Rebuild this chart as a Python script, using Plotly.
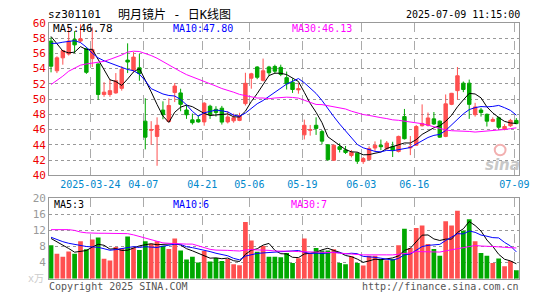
import plotly.graph_objects as go

# ---------------- data ----------------
dates = ["2025-03-13", "2025-03-14", "2025-03-17", "2025-03-18", "2025-03-19", "2025-03-20", "2025-03-21",
         "2025-03-24", "2025-03-25", "2025-03-26", "2025-03-27", "2025-03-28", "2025-03-31",
         "2025-04-01", "2025-04-02", "2025-04-03", "2025-04-07", "2025-04-08", "2025-04-09", "2025-04-10",
         "2025-04-11", "2025-04-14", "2025-04-15", "2025-04-16", "2025-04-17", "2025-04-18", "2025-04-21",
         "2025-04-22", "2025-04-23", "2025-04-24", "2025-04-25", "2025-04-28", "2025-04-29", "2025-04-30",
         "2025-05-06", "2025-05-07", "2025-05-08", "2025-05-09", "2025-05-12", "2025-05-13", "2025-05-14",
         "2025-05-15", "2025-05-16", "2025-05-19", "2025-05-20", "2025-05-21", "2025-05-22", "2025-05-23",
         "2025-05-26", "2025-05-27", "2025-05-28", "2025-05-29", "2025-05-30", "2025-06-03", "2025-06-04",
         "2025-06-05", "2025-06-06", "2025-06-09", "2025-06-10", "2025-06-11", "2025-06-12", "2025-06-13",
         "2025-06-16", "2025-06-17", "2025-06-18", "2025-06-19", "2025-06-20", "2025-06-23", "2025-06-24",
         "2025-06-25", "2025-06-26", "2025-06-27", "2025-06-30", "2025-07-01", "2025-07-02", "2025-07-03",
         "2025-07-04", "2025-07-07", "2025-07-08", "2025-07-09"]

opens = [57.6, 53.7, 55.4, 55.9, 57.8, 57.6, 56.6, 55.3, 54.6, 50.6,
         50.6, 50.8, 51.4, 55.1, 53.8, 54.1, 47.1, 45.9, 45.1, 48.55,
         47.05, 50.85, 50.8, 48.56, 47.27, 47.3, 47.0, 49.06, 48.65, 48.8,
         47.0, 47.15, 47.2, 49.4, 52.73, 54.2, 52.45, 54.2, 54.27, 54.15,
         52.8, 52.2, 51.2, 45.31, 45.9, 46.56, 45.73, 44.0, 41.98, 43.75,
         43.33, 42.6, 42.9, 41.8, 42.08, 43.58, 43.94, 43.52, 43.8, 43.12,
         47.7, 43.6, 43.95, 46.5, 46.56, 47.4, 47.1, 45.1, 49.3, 51.1,
         52.08, 52.08, 47.95, 48.56, 48.0, 47.08, 47.55, 46.04, 46.5, 47.2]
highs = [58.1, 55.6, 56.4, 59.5, 58.9, 59.8, 56.8, 59.4, 54.7, 52.2,
         52.6, 53.4, 54.3, 57.3, 56.15, 55.9, 50.1, 47.1, 47.6, 49.7,
         50.1, 52.1, 51.35, 49.27, 48.1, 47.9, 49.6, 49.25, 49.06, 49.1,
         48.4, 48.1, 48.2, 53.44, 53.44, 54.3, 55.3, 54.35, 54.5, 54.5,
         53.6, 52.7, 52.1, 47.3, 46.6, 47.6, 45.94, 44.06, 44.06, 44.2,
         43.85, 43.31, 43.0, 42.4, 43.8, 44.45, 44.69, 44.5, 44.4, 45.2,
         48.7, 45.15, 46.6, 49.3, 48.23, 48.3, 47.2, 50.6, 50.8, 54.2,
         52.3, 52.55, 49.5, 48.85, 48.1, 47.6, 47.7, 46.7, 47.4, 47.5]
lows = [53.5, 53.4, 54.5, 55.7, 56.0, 57.4, 53.3, 54.2, 49.9, 50.3,
        50.3, 50.7, 51.1, 53.4, 53.5, 52.4, 43.4, 44.0, 41.25, 47.35,
        46.98, 49.6, 48.4, 47.4, 46.65, 46.9, 46.5, 47.4, 47.7, 46.65,
        46.8, 46.9, 47.1, 49.15, 51.35, 52.6, 52.3, 53.0, 53.3, 53.0,
        51.25, 50.8, 50.7, 44.7, 45.2, 45.3, 44.06, 41.9, 41.9, 43.0,
        42.8, 42.35, 41.5, 41.5, 41.95, 43.2, 43.3, 43.3, 42.4, 43.0,
        44.7, 42.65, 43.9, 46.4, 46.4, 46.6, 44.9, 45.0, 49.2, 49.9,
        50.9, 47.4, 47.7, 47.7, 46.4, 46.98, 45.95, 45.9, 46.35, 46.7]
closes = [54.3, 55.4, 56.35, 57.6, 57.1, 57.9, 53.5, 56.5, 50.6, 50.9,
          51.1, 52.4, 53.9, 54.85, 55.5, 53.35, 45.0, 46.0, 46.56, 47.95,
          49.15, 51.7, 49.3, 47.94, 46.9, 47.0, 49.45, 47.92, 48.25, 46.98,
          47.65, 47.55, 47.8, 52.06, 53.31, 52.85, 53.7, 53.44, 53.65, 53.23,
          52.0, 51.25, 51.35, 46.56, 46.0, 46.15, 44.48, 42.06, 43.94, 43.4,
          43.0, 43.0, 41.85, 42.2, 43.5, 43.94, 43.75, 44.23, 43.33, 45.1,
          44.8, 43.72, 46.4, 46.8, 47.52, 46.73, 45.0, 49.37, 50.75, 53.05,
          51.25, 49.3, 48.96, 48.23, 47.1, 47.32, 46.3, 46.4, 47.2, 46.78]
volumes = [8.33, 6.19, 5.48, 6.75, 6.19, 9.29, 7.3, 9.76, 10.24, 4.97,
           4.5, 7.86, 7.54, 10.48, 7.78, 7.14, 9.29, 8.7, 9.29, 8.17,
           7.37, 10.0, 7.0, 4.76, 5.48, 4.05, 6.9, 4.29, 5.16, 4.37,
           4.9, 3.57, 3.33, 14.1, 9.52, 6.67, 8.1, 5.48, 5.48, 5.3,
           6.4, 3.9, 5.1, 10.0, 6.2, 7.6, 7.0, 7.0, 7.3, 3.9,
           3.6, 5.6, 3.9, 3.3, 5.7, 5.7, 4.9, 4.6, 4.9, 8.3,
           12.4, 7.6, 12.6, 13.2, 8.6, 7.4, 5.7, 14.3, 13.2, 16.9,
           11.9, 14.8, 9.3, 6.4, 5.7, 3.9, 5.0, 3.1, 4.4, 2.1]

# moving-average values visible before enough history exists in this window
ma5_head = [58.2, 57.3, 56.3, 56.05]
ma10_head = [57.3, 57.3, 57.45, 57.55, 57.65, 57.4, 56.8, 56.0, 55.4]
ma30_head = [51.9, 52.4, 53.0, 53.65, 54.06, 54.44, 54.6, 54.7, 54.77, 54.94,
             55.2, 55.44, 55.77, 56.15, 56.27, 56.23, 56.0, 55.7, 55.35, 54.9,
             54.4, 54.0, 53.6, 53.2, 52.9, 52.7, 52.4, 52.1, 51.7]
vma5_head = [10.0, 9.2, 8.3, 7.5]
vma10_head = [10.3, 9.7, 9.2, 8.8, 8.5, 8.2, 8.0, 7.9, 7.8]
vma30_head = [12.2, 12.2, 12.2, 12.2, 12.0, 11.6, 11.4, 11.3, 11.3, 11.3,
              11.3, 11.3, 11.3, 11.2, 10.9, 10.5, 10.1, 9.6, 9.2, 8.9,
              8.8, 8.7, 8.7, 8.6, 8.6, 8.1, 7.6, 7.3, 7.1]

tick_dates = ["2025-03-24", "2025-04-07", "2025-04-21", "2025-05-06",
              "2025-05-19", "2025-06-03", "2025-06-16", "2025-07-09"]
tick_text = ["2025-03-24", "04-07", "04-21", "05-06", "05-19", "06-03", "06-16", "07-09"]
price_ticks = [40, 42, 44, 46, 48, 50, 52, 54, 56, 58, 60]
vol_ticks = [4, 8, 12, 16, 20]

title_code = "sz301101"
title_name = "明月镜片 - 日K线图"
title_time = "2025-07-09 11:15:00"
legend_main = ["MA5:46.78", "MA10:47.80", "MA30:46.13"]
legend_vol = ["MA5:3", "MA10:6", "MA30:7"]


def moving_avg(vals, n, head):
    out = list(head)
    for i in range(len(head), len(vals)):
        out.append(sum(vals[i - n + 1:i + 1]) / n)
    return out


ma5 = moving_avg(closes, 5, ma5_head)
ma10 = moving_avg(closes, 10, ma10_head)
ma30 = moving_avg(closes, 30, ma30_head)
vma5 = moving_avg(volumes, 5, vma5_head)
vma10 = moving_avg(volumes, 10, vma10_head)
vma30 = moving_avg(volumes, 30, vma30_head)

# ---------------- styling ----------------
W, H = 545, 300
L, R = 50, 529
MT, MB = 17.5, 177
VT, VB = 201, 285
RED = "#ff5050"
GREEN = "#00a800"
MONO = "DejaVu Sans Mono, Noto Sans CJK SC, monospace"


def pyf(y):
    return 1 - y / H


def pxf(x):
    return x / W


xs = list(range(len(dates)))
tick_pos = [dates.index(d) - 1 / 3 for d in tick_dates]
bar_colors = [RED if c >= o else GREEN for o, c in zip(opens, closes)]

fig = go.Figure()
fig.add_trace(go.Candlestick(
    x=xs, open=opens, high=highs, low=lows, close=closes,
    increasing=dict(line=dict(color=RED, width=1), fillcolor=RED),
    decreasing=dict(line=dict(color=GREEN, width=1), fillcolor=GREEN),
    whiskerwidth=0, xaxis="x", yaxis="y", hoverinfo="skip"))
for vals, col in [(ma5, "#000000"), (ma10, "#0000ff"), (ma30, "#ff00ff")]:
    fig.add_trace(go.Scatter(x=xs, y=vals, mode="lines", line=dict(color=col, width=1),
                             xaxis="x", yaxis="y", hoverinfo="skip"))
fig.add_trace(go.Bar(x=xs, y=volumes, marker=dict(color=bar_colors, line=dict(width=0)),
                     width=0.8, xaxis="x2", yaxis="y2", hoverinfo="skip"))
for vals, col in [(vma5, "#000000"), (vma10, "#0000ff"), (vma30, "#ff00ff")]:
    fig.add_trace(go.Scatter(x=xs, y=vals, mode="lines", line=dict(color=col, width=1),
                             xaxis="x2", yaxis="y2", hoverinfo="skip"))

xr = [-1 / 3, len(dates) - 0.5]
common_x = dict(domain=[pxf(L), pxf(R)], range=xr, tickvals=tick_pos, ticktext=tick_text,
                showgrid=True, gridcolor="#aaaaaa", griddash="dash", gridwidth=1,
                showline=True, mirror=True, linecolor="#999999", linewidth=1,
                ticks="", zeroline=False, fixedrange=True)
common_y = dict(showgrid=True, gridcolor="#999999", griddash="dot", gridwidth=1,
                showline=True, mirror=True, linecolor="#999999", linewidth=1,
                ticks="", zeroline=False, fixedrange=True)

fig.update_layout(
    width=W, height=H, autosize=False,
    margin=dict(l=0, r=0, t=0, b=0),
    paper_bgcolor="white", plot_bgcolor="white",
    showlegend=False, hovermode=False, boxgap=0.17,
    xaxis=dict(**common_x, anchor="y", rangeslider=dict(visible=False),
               tickfont=dict(family=MONO, size=10, color="#0088cc")),
    xaxis2=dict(**common_x, anchor="y2", showticklabels=False),
    yaxis=dict(**common_y, domain=[pyf(MB), pyf(MT)], range=[40, 60], tickvals=price_ticks,
               tickfont=dict(family=MONO, size=11, color="#ee0000")),
    yaxis2=dict(**common_y, domain=[pyf(VB), pyf(VT)], range=[0, 20], tickvals=vol_ticks,
                tickfont=dict(family=MONO, size=11, color="#999999")),
)


def ann(text, x, y, color="#000000", size=10, anchor="left", family=MONO, **kw):
    fig.add_annotation(text=text, x=pxf(x), y=pyf(y), xref="paper", yref="paper",
                       xanchor=anchor, yanchor="middle", showarrow=False,
                       font=dict(family=family, size=size, color=color), borderpad=0, **kw)


ann(title_code, 48, 9, size=11)
ann(title_name, 178, 9, size=12, anchor="center")
ann(title_time, 531, 9, size=10, anchor="right")
ann(legend_main[0], 53, 24, size=11)
ann(legend_main[1], 175, 24, color="#0000ff")
ann(legend_main[2], 296, 24, color="#ff00ff")
ann(legend_vol[0], 54, 207)
ann(legend_vol[1], 175, 207, color="#0000ff")
ann(legend_vol[2], 295, 207, color="#ff00ff")
ann("x万", 46, 285, color="#cccccc", anchor="right")
ann("Copyright 2025 SINA.COM", 49, 293, color="#555555")
ann("http://finance.sina.com.cn", 530, 293, color="#555555", anchor="right")
ann("<b><i>sina</i></b>", 512, 166, color="#c8c8c8", size=15, anchor="center",
    family="DejaVu Sans, sans-serif")

# small pink "eye" logo above the watermark word
fig.add_shape(type="circle", xref="paper", yref="paper",
              x0=pxf(504), x1=pxf(515), y0=pyf(156), y1=pyf(145),
              line=dict(color="#f2b0b0", width=2), fillcolor="rgba(0,0,0,0)")

fig.write_html("out.html")
